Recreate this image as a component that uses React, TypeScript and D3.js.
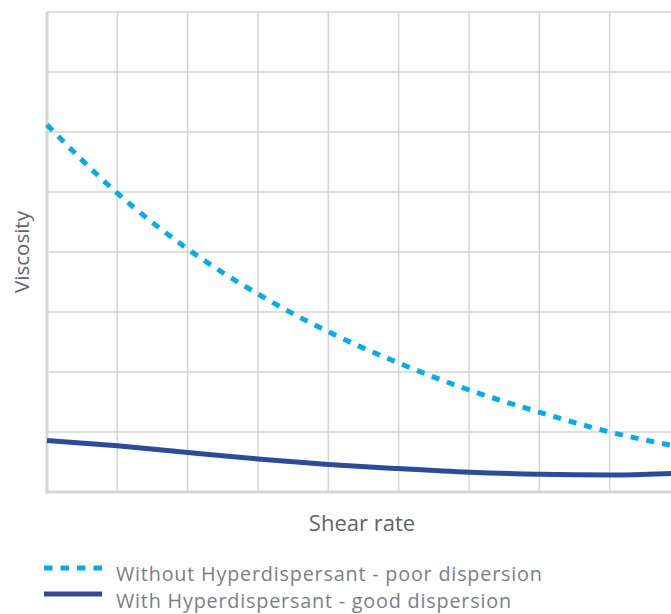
import React from "react";
import * as d3 from "d3";

const xCols = [0, 1, 2, 3, 4, 5, 6, 7, 8, 9];
const yRows = [0, 1, 2, 3, 4, 5, 6, 7, 8];
const shearRate = [0, 1, 2, 3, 4, 5, 6, 7, 8, 8.87, 9];
const withoutHD = [6.12, 4.98, 4.05, 3.3, 2.67, 2.15, 1.7, 1.33, 1.0, 0.78, 0.75];
const withHD = [0.86, 0.77, 0.66, 0.55, 0.46, 0.39, 0.33, 0.295, 0.283, 0.31, 0.315];
const legendLabels = [
  "Without Hyperdispersant - poor dispersion",
  "With Hyperdispersant - good dispersion",
];

const W = 671;
const H = 614;
const left = 47;
const right = 680;
const top = 12;
const bottom = 492;

export default function App() {
  const x = d3.scaleLinear().domain([0, 9]).range([left, right]);
  const y = d3.scaleLinear().domain([0, 8]).range([bottom, top]);
  const line = d3
    .line<number>()
    .x((_, i) => x(shearRate[i]))
    .y((d) => y(d))
    .curve(d3.curveMonotoneX);
  const grid = "#d5d5d5";
  const font = "'Open Sans', sans-serif";
  return (
    <svg
      width={W}
      height={H}
      style={{ position: "absolute", left: 0, top: 0, display: "block" }}
    >
      <rect x={0} y={0} width={W} height={H} fill="#fff" />
      {yRows.slice(1).map((r) => (
        <line key={"h" + r} x1={left} x2={right} y1={y(r)} y2={y(r)} stroke={grid} strokeWidth={1.5} />
      ))}
      {xCols.slice(1).map((c) => (
        <line key={"v" + c} x1={x(c)} x2={x(c)} y1={top} y2={bottom} stroke={grid} strokeWidth={1.5} />
      ))}
      <line x1={left} x2={left} y1={top} y2={bottom + 1.5} stroke={grid} strokeWidth={3} />
      <line x1={left - 1.5} x2={right} y1={bottom} y2={bottom} stroke={grid} strokeWidth={3} />
      <path d={line(withoutHD) || ""} fill="none" stroke="#00aeef" strokeWidth={5} strokeDasharray="8 8" />
      <path d={line(withHD) || ""} fill="none" stroke="#2e4a9f" strokeWidth={5} />
      <text
        transform={`translate(29,${(top + bottom) / 2}) rotate(-90)`}
        textAnchor="middle"
        fontFamily={font}
        fontSize={20.5}
        fill="#606469"
      >
        Viscosity
      </text>
      <text x={362} y={531} textAnchor="middle" fontFamily={font} fontSize={22} fill="#606469">
        Shear rate
      </text>
      <line x1={44} x2={102} y1={568} y2={568} stroke="#00aeef" strokeWidth={5} strokeDasharray="8.5 8" />
      <line x1={44} x2={102} y1={594} y2={594} stroke="#2e4a9f" strokeWidth={5} />
      <text x={116} y={581} fontFamily={font} fontSize={19.8} letterSpacing={0.8} fill="#7b7f84">
        {legendLabels[0]}
      </text>
      <text x={116} y={608} fontFamily={font} fontSize={19.8} letterSpacing={0.8} fill="#7b7f84">
        {legendLabels[1]}
      </text>
    </svg>
  );
}
